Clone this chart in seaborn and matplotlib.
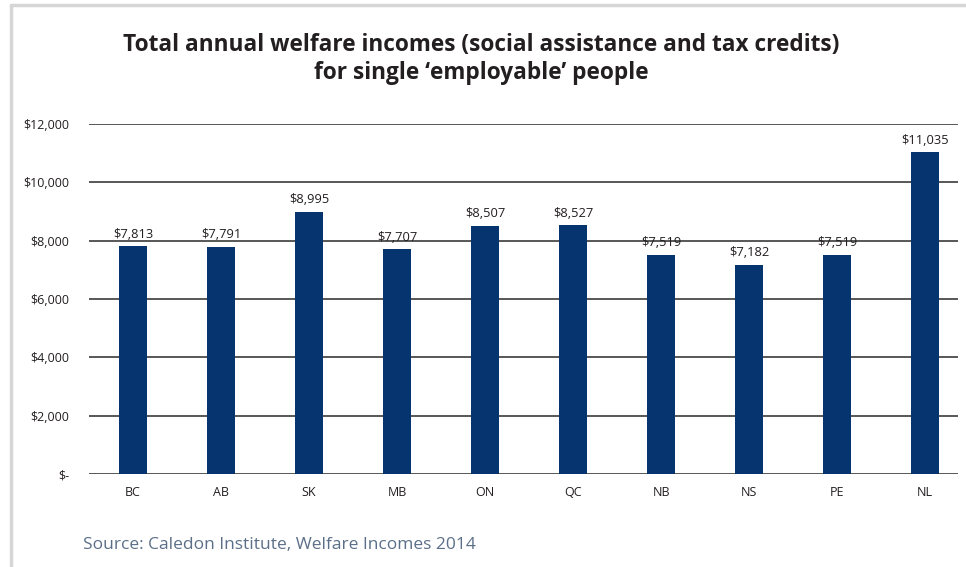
import matplotlib
matplotlib.use("Agg")
import matplotlib.pyplot as plt
import seaborn as sns
import pandas as pd
from matplotlib.lines import Line2D

provinces = ["BC", "AB", "SK", "MB", "ON", "QC", "NB", "NS", "PE", "NL"]
incomes = [7813, 7791, 8995, 7707, 8507, 8527, 7519, 7182, 7519, 11035]
y_ticks = [0, 2000, 4000, 6000, 8000, 10000, 12000]
y_tick_labels = ["$-", "$2,000", "$4,000", "$6,000", "$8,000", "$10,000", "$12,000"]

title = "Total annual welfare incomes (social assistance and tax credits)\nfor single \u2018employable\u2019 people"
source = "Source: Caledon Institute, Welfare Incomes 2014"

sns.set_theme(style="white")
plt.rcParams["font.family"] = ["Open Sans", "DejaVu Sans"]

df = pd.DataFrame({"province": provinces, "income": incomes})

fig = plt.figure(figsize=(9.66, 5.67), dpi=100)
W, H = 966, 567
ax = fig.add_axes([89 / W, 1 - 474 / H, (958 - 89) / W, (474 - 124) / H])

bar_color = "#05346f"
sns.barplot(data=df, x="province", y="income", color=bar_color, width=0.31,
            saturation=1, linewidth=0, ax=ax, zorder=3)

ax.set_xlim(-0.5, 9.375)
ax.set_ylim(0, 12000)
ax.set_yticks(y_ticks)
ax.set_yticklabels(y_tick_labels)
for yv in y_ticks:
    ax.axhline(yv, color="#4a4a4a", lw=1.3, zorder=1)

for s in ax.spines.values():
    s.set_visible(False)
ax.set_xlabel("")
ax.set_ylabel("")
ax.tick_params(axis="y", length=0, pad=14, labelsize=9, labelcolor="#231f20")
ax.tick_params(axis="x", length=0, pad=9, labelsize=9, labelcolor="#231f20")

for i, v in enumerate(incomes):
    ax.annotate(f"${v:,}", (i, v), xytext=(0, 4), textcoords="offset points",
                ha="center", va="bottom", fontsize=9.3, color="#231f20")

fig.text(481 / W, 1 - 59 / H, title, ha="center", va="center", fontsize=16.3,
         fontweight="bold", color="#231f20", linespacing=1.25)
fig.text(83 / W, 1 - 545 / H, source, ha="left", va="center", fontsize=12.5,
         color="#5b6f88")

border = "#d6d6d6"
fig.add_artist(Line2D([11 / W, 11 / W], [0, 1 - 5 / H], color=border, lw=2.5,
                      transform=fig.transFigure))
fig.add_artist(Line2D([11 / W, 1], [1 - 5 / H, 1 - 5 / H], color=border, lw=2.5,
                      transform=fig.transFigure))

fig.savefig("out.png", dpi=100)
